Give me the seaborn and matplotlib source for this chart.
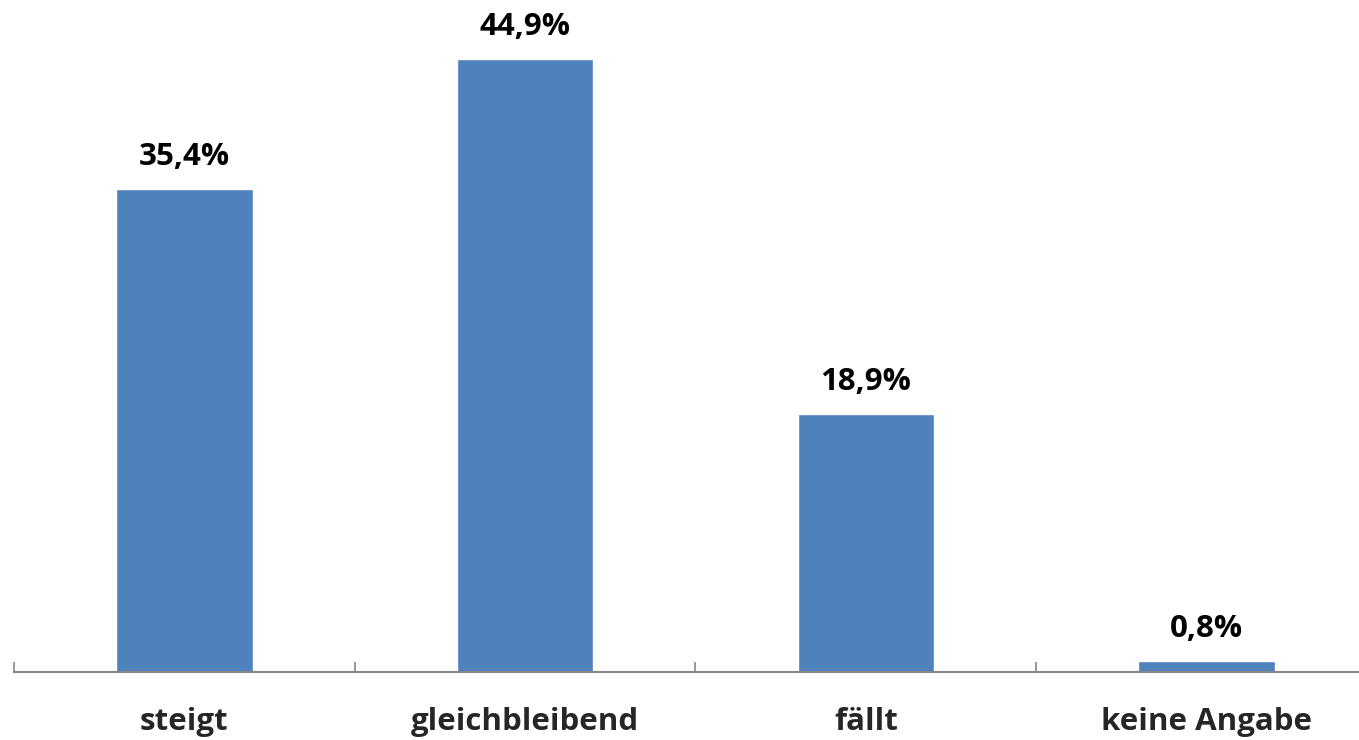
import matplotlib.pyplot as plt
import seaborn as sns
import pandas as pd
from matplotlib.ticker import FixedLocator

# Daten aus dem Diagramm
categories = ["steigt", "gleichbleibend", "fällt", "keine Angabe"]
values = [35.4, 44.9, 18.9, 0.8]
value_labels = ["35,4%", "44,9%", "18,9%", "0,8%"]

df = pd.DataFrame({"Kategorie": categories, "Anteil": values})

sns.set_theme(style="white")
plt.rcParams['font.family'] = ['Open Sans', 'DejaVu Sans']

fig = plt.figure(figsize=(13.59, 7.40), dpi=100)
# axes reaches slightly past the right edge (picture is cropped there)
ax = fig.add_axes([14 / 1359, (740 - 672) / 740, (1377 - 14) / 1359, (672 - 10) / 740])

sns.barplot(data=df, x="Kategorie", y="Anteil", color="#4F81BD", width=0.4,
            saturation=1, ax=ax)

ax.set_ylim(0, 48.5)
ax.set_xlim(-0.5, 3.5)

for i, (v, lab) in enumerate(zip(values, value_labels)):
    ax.annotate(lab, (i, v), xytext=(0, 12), textcoords="offset points",
                ha="center", va="bottom", fontsize=22.5, fontweight="bold", color="black")

# Achsen
for s in ["top", "right", "left"]:
    ax.spines[s].set_visible(False)
ax.spines["bottom"].set_color("#868686")
ax.spines["bottom"].set_linewidth(1.5)
ax.set_yticks([])
ax.set_xlabel("")
ax.set_ylabel("")

ax.xaxis.set_minor_locator(FixedLocator([-0.5, 0.5, 1.5, 2.5, 3.5]))
ax.tick_params(axis="x", which="major", length=0, pad=25, labelsize=22.5)
ax.tick_params(axis="x", which="minor", direction="in", length=7, width=1.2,
               color="#868686", bottom=True)
for t in ax.get_xticklabels():
    t.set_fontweight("bold")

fig.savefig("out.png", dpi=100)
